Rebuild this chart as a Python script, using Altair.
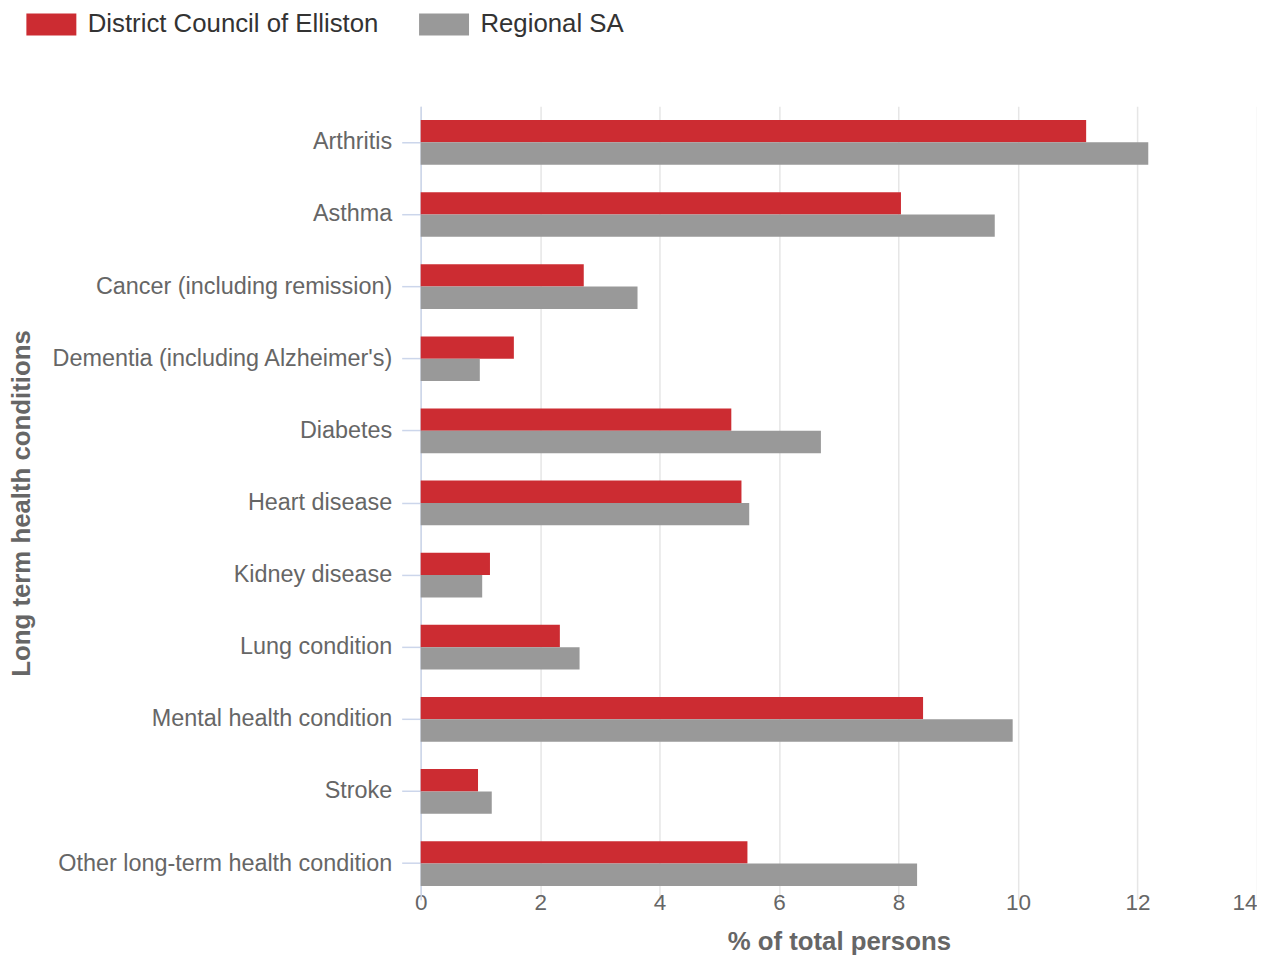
import altair as alt
import pandas as pd

conditions = [
    "Arthritis",
    "Asthma",
    "Cancer (including remission)",
    "Dementia (including Alzheimer's)",
    "Diabetes",
    "Heart disease",
    "Kidney disease",
    "Lung condition",
    "Mental health condition",
    "Stroke",
    "Other long-term health condition",
]
elliston = [11.14, 8.04, 2.73, 1.56, 5.20, 5.37, 1.16, 2.33, 8.41, 0.96, 5.47]
regional = [12.18, 9.61, 3.63, 0.99, 6.70, 5.50, 1.03, 2.66, 9.91, 1.19, 8.31]
series = ["District Council of Elliston", "Regional SA"]
colors = ["#cc2c32", "#999999"]
x_ticks = [0, 2, 4, 6, 8, 10, 12, 14]

rows = []
for c, v in zip(conditions, elliston):
    rows.append({"condition": c, "series": series[0], "value": v})
for c, v in zip(conditions, regional):
    rows.append({"condition": c, "series": series[1], "value": v})
df = pd.DataFrame(rows)

FONT = "Liberation Sans"
PLOT_W = 837
PLOT_H = 794

chart = (
    alt.Chart(df)
    .mark_bar(strokeWidth=0)
    .encode(
        y=alt.Y(
            "condition:N",
            sort=conditions,
            title="Long term health conditions",
            scale=alt.Scale(paddingInner=0.38, paddingOuter=0.19),
            axis=alt.Axis(
                domain=True,
                domainColor="#ccd6eb",
                domainWidth=1.5,
                ticks=True,
                tickColor="#ccd6eb",
                tickWidth=1.5,
                tickSize=19,
                labelPadding=10,
                labelFont=FONT,
                labelFontSize=23.4,
                labelColor="#666666",
                labelLimit=600,
                grid=False,
                titleFont=FONT,
                titleFontSize=25.8,
                titleFontWeight="bold",
                titleColor="#666666",
                titleX=-386,
                titleY=PLOT_H / 2,
                titleAngle=270,
                titleAlign="center",
                titleBaseline="bottom",
            ),
        ),
        yOffset=alt.YOffset(
            "series:N", sort=series, scale=alt.Scale(paddingInner=0, paddingOuter=0)
        ),
        x=alt.X(
            "value:Q",
            title="% of total persons",
            scale=alt.Scale(domain=[0, 14], nice=False),
            axis=alt.Axis(
                values=x_ticks,
                grid=True,
                gridColor="#e6e6e6",
                gridWidth=1.5,
                domain=False,
                ticks=False,
                labelPadding=3,
                labelBaseline="middle",
                labelAlign={"condition": {"test": "datum.value == 14", "value": "right"}, "value": "center"},
                labelFont=FONT,
                labelFontSize=22.5,
                labelColor="#666666",
                titleFont=FONT,
                titleFontSize=25.8,
                titleFontWeight="bold",
                titleColor="#666666",
                titlePadding=15,
            ),
        ),
        color=alt.Color(
            "series:N",
            sort=series,
            scale=alt.Scale(domain=series, range=colors),
            legend=alt.Legend(
                title=None,
                orient="none",
                legendX=-395,
                legendY=-95,
                direction="horizontal",
                symbolType="M-1,-0.88H3V0.88H-1Z",
                symbolSize=625,
                symbolStrokeWidth=0,
                symbolOpacity=1,
                labelFont=FONT,
                labelFontSize=25.8,
                labelColor="#333333",
                labelLimit=600,
                labelOffset=36,
                columnPadding=40,
            ),
        ),
    )
    .properties(width=PLOT_W, height=PLOT_H, padding={"left": 1, "top": 3, "right": 0, "bottom": 0})
    .configure_view(stroke=None)
)

chart.save("out.html", embed_options={"renderer": "svg", "actions": False})
